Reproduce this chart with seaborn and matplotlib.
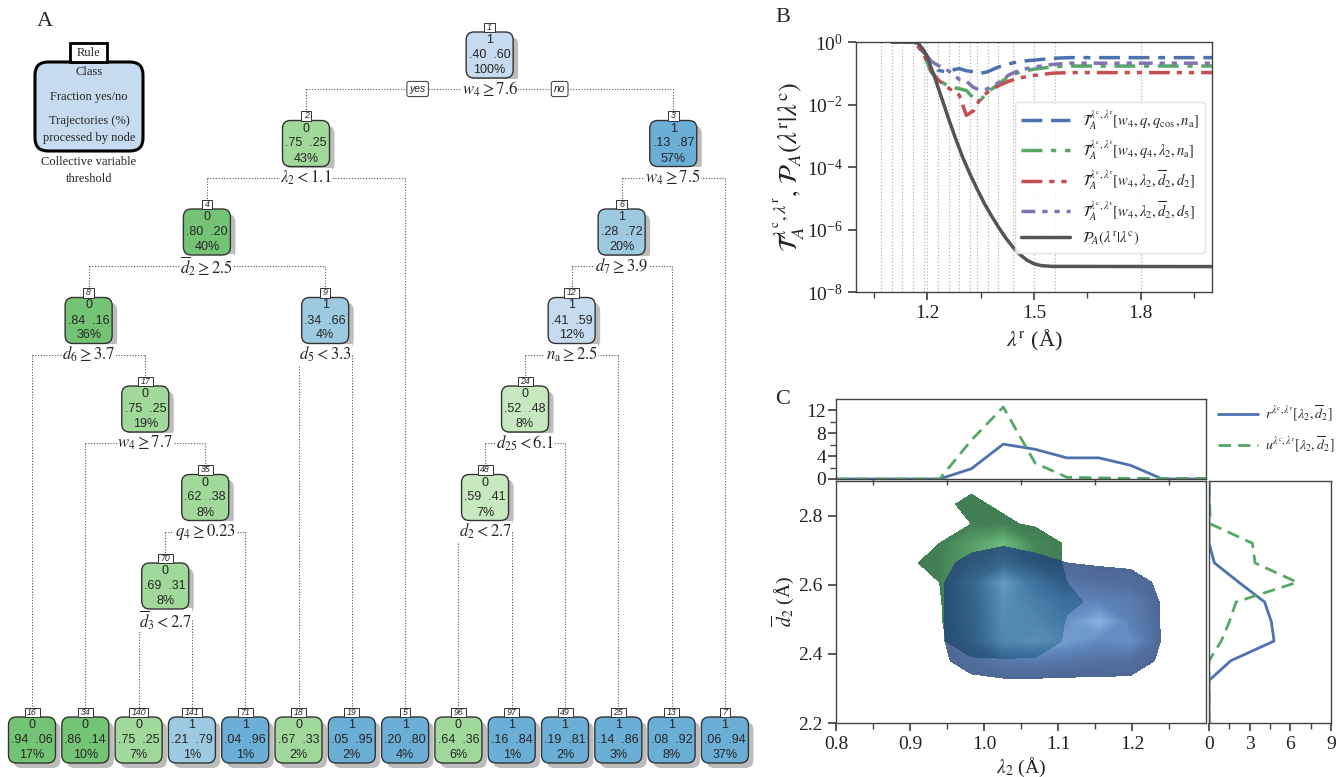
import numpy as np
import pandas as pd
import seaborn as sns
import matplotlib
matplotlib.use("Agg")
import matplotlib.pyplot as plt
from matplotlib.patches import FancyBboxPatch, Rectangle
from matplotlib.colors import LinearSegmentedColormap

W, H = 1336, 777

# ---------------- panel A : classification tree ----------------
node_ids = [1, 2, 3, 4, 5, 6, 7, 8, 9, 12, 13, 16, 17, 18, 19, 24, 25, 34, 35, 48, 49, 70, 71, 96, 97, 140, 141]
node_class = [1, 0, 1, 0, 1, 1, 1, 0, 1, 1, 1, 0, 0, 0, 1, 0, 1, 0, 0, 0, 1, 0, 1, 0, 1, 0, 1]
node_yes = [.40, .75, .13, .80, .20, .28, .06, .84, .34, .41, .08, .94, .75, .67, .05, .52, .14,
            .86, .62, .59, .19, .69, .04, .64, .16, .75, .21]
node_pct = [100, 43, 57, 40, 4, 20, 37, 36, 4, 12, 8, 17, 19, 2, 2, 8, 3, 10, 8, 7, 2, 8, 1, 6, 1, 7, 1]
split_nodes = [1, 2, 3, 4, 6, 8, 9, 12, 17, 24, 35, 48, 70]
split_rules = [r"$w_4 \geq 7.6$", r"$\lambda_2 < 1.1$", r"$w_4 \geq 7.5$", r"$\overline{d}_2 \geq 2.5$",
               r"$d_7 \geq 3.9$", r"$d_6 \geq 3.7$", r"$d_5 < 3.3$", r"$n_{\rm a} \geq 2.5$",
               r"$w_4 \geq 7.7$", r"$d_{25} < 6.1$", r"$q_4 \geq 0.23$", r"$d_2 < 2.7$",
               r"$\overline{d}_3 < 2.7$"]

# ---------------- panel B : transition probabilities ----------------
interfaces = [1.07, 1.10, 1.13, 1.16, 1.19, 1.23, 1.26, 1.29, 1.32, 1.34, 1.37, 1.40, 1.44, 1.56]
lam_r = [1.10, 1.165, 1.19, 1.21, 1.23, 1.25, 1.27, 1.29, 1.31, 1.33, 1.35, 1.37, 1.40, 1.43, 1.46,
         1.50, 1.55, 1.60, 2.00]
T_w4_q_qcos_na = [1, 1, 0.5, 0.25, 0.126, 0.112, 0.126, 0.141, 0.12, 0.112, 0.1, 0.112, 0.158, 0.2,
                  0.24, 0.263, 0.3, 0.316, 0.316]
T_w4_q4_l2_na = [1, 1, 0.45, 0.112, 0.063, 0.045, 0.035, 0.032, 0.028, 0.016, 0.014, 0.025, 0.045,
                 0.08, 0.11, 0.135, 0.16, 0.17, 0.17]
T_w4_l2_d2_d2 = [1, 1, 0.4, 0.126, 0.063, 0.04, 0.028, 0.02, 0.0045, 0.0063, 0.016, 0.025, 0.04,
                 0.056, 0.071, 0.085, 0.1, 0.105, 0.105]
T_w4_l2_d2_d5 = [1, 1, 0.45, 0.25, 0.178, 0.141, 0.1, 0.063, 0.056, 0.035, 0.028, 0.032, 0.05,
                 0.089, 0.126, 0.158, 0.19, 0.21, 0.21]
lam_r_P = [1.10, 1.165, 1.175, 1.19, 1.20, 1.22, 1.24, 1.26, 1.28, 1.30, 1.32, 1.34, 1.36, 1.38,
           1.40, 1.42, 1.44, 1.46, 1.48, 1.50, 1.52, 1.55, 2.00]
P_A = [1, 1, 0.9, 0.55, 0.33, 0.08, 0.017, 3.5e-3, 8e-4, 2e-4, 6e-5, 2e-5, 7e-6, 2.8e-6,
       1.2e-6, 5.5e-7, 2.8e-7, 1.6e-7, 1.05e-7, 8e-8, 7e-8, 6.6e-8, 6.5e-8]

# ---------------- panel C : densities of lambda_2 / d2bar ----------------
lam2_grid = [0.897, 0.940, 0.983, 1.026, 1.069, 1.112, 1.155, 1.198, 1.241]
d2_grid = [2.323, 2.38, 2.437, 2.493, 2.55, 2.607, 2.663, 2.72, 2.776, 2.833, 2.89]
r_joint = [
    [0, 0, 0, 0, 0, 0, 0, 0, 0],
    [0, 0, 3, 8, 9, 6, 5, 4, 0],
    [0, 0, 6, 23, 26, 22, 15, 17, 0],
    [0, 0, 7, 24, 23, 18, 30, 12, 0],
    [0, 0, 7, 25, 20, 15, 13, 10, 0],
    [0, 0, 6, 22, 14, 6, 4, 3, 0],
    [0, 0, 2, 6, 2, 1, 0.3, 0, 0],
    [0, 0, 0, 0, 0, 0, 0, 0, 0],
    [0, 0, 0, 0, 0, 0, 0, 0, 0],
    [0, 0, 0, 0, 0, 0, 0, 0, 0],
    [0, 0, 0, 0, 0, 0, 0, 0, 0],
]
u_joint = [
    [0, 0, 0, 0, 0, 0, 0, 0, 0],
    [0, 0, 0, 0, 0, 0, 0, 0, 0],
    [0, 0, 5, 8, 6, 0, 0, 0, 0],
    [0, 0, 10, 17, 7, 0.5, 0, 0, 0],
    [0, 0, 14, 22, 8, 2, 0, 0, 0],
    [0, 1, 40, 85, 22, 1, 0, 0, 0],
    [0, 3, 25, 42, 6, 0, 0, 0, 0],
    [0, 1, 22, 44, 6, 0, 0, 0, 0],
    [0, 0, 1, 2, 0, 0, 0, 0, 0],
    [0, 0, 2, 0, 0, 0, 0, 0, 0],
    [0, 0, 0, 0, 0, 0, 0, 0, 0],
]
lam2_marg = [0.80, 0.854, 0.897, 0.940, 0.983, 1.026, 1.069, 1.112, 1.155, 1.198, 1.241, 1.30]
r_lam2 = [0, 0, 0, 0, 1.8, 6.1, 5.2, 3.7, 3.7, 2.4, 0, 0]
u_lam2 = [0, 0, 0, 0, 6.8, 12.6, 2.8, 0.3, 0.2, 0.1, 0.1, 0.1]
d2_marg = [2.20, 2.27, 2.323, 2.38, 2.437, 2.493, 2.55, 2.607, 2.663, 2.72, 2.776, 2.833, 2.90]
r_d2 = [0, 0, 0, 1.6, 4.8, 4.6, 4.1, 2.2, 0.4, 0, 0, 0, 0]
u_d2 = [0, 0, 0, 0, 0.9, 1.5, 2.0, 6.5, 3.4, 3.2, 0.1, 0.05, 0]

# ---------------- style ----------------
sns.set_theme(style="ticks")
plt.rcParams.update({
    "font.family": ["Liberation Serif", "DejaVu Serif"],
    "mathtext.fontset": "stix",
    "axes.edgecolor": "#444444",
    "axes.linewidth": 1.0,
    "xtick.color": "#444444",
    "ytick.color": "#444444",
    "xtick.labelcolor": "#222222",
    "ytick.labelcolor": "#222222",
    "axes.labelcolor": "#222222",
})
deep = sns.color_palette("deep")
c_blue, c_green, c_red, c_purple = deep[0], deep[2], deep[3], deep[4]
SANS = ["Liberation Sans", "DejaVu Sans"]

fig = plt.figure(figsize=(W / 100, H / 100), dpi=100)

# ======================= A =======================
axA = fig.add_axes([0, 0, 770 / W, 1])
axA.set_xlim(0, 770)
axA.set_ylim(H, 0)
axA.axis("off")

nodes = pd.DataFrame({"cls": node_class, "yes": node_yes, "pct": node_pct}, index=node_ids)
rules = dict(zip(split_nodes, split_rules))

LEAF_X0, LEAF_DX, LEAF_Y = 32, 53.3, 740
ROOT_Y, LEVEL_DY = 55, 88.5
BW, BH = 47, 46

pos = {}
leaf_count = [0]


def place(n, depth):
    if 2 * n in nodes.index:
        xl = place(2 * n, depth + 1)
        xr = place(2 * n + 1, depth + 1)
        x = (xl + xr) / 2
        pos[n] = (x, ROOT_Y + LEVEL_DY * depth)
    else:
        x = LEAF_X0 + LEAF_DX * leaf_count[0]
        leaf_count[0] += 1
        pos[n] = (x, LEAF_Y)
    return x


place(1, 0)

greens = ["#c7e9c0", "#a1d99b", "#74c476"]
blues = ["#c6dbef", "#9ecae1", "#6baed6"]


def node_color(cls, p_yes):
    p = max(p_yes, 1 - p_yes)
    k = 0 if p <= 0.61 else (1 if p < 0.8 else 2)
    return (greens if cls == 0 else blues)[k]


def frac(p):
    return f"{p:.2f}"[1:]


line_kw = dict(color="#555555", lw=0.8, ls=(0, (1, 1.5)), zorder=1)

# connecting dotted lines and split labels
for n in split_nodes:
    x, y = pos[n]
    xl, yl = pos[2 * n]
    xr, yr = pos[2 * n + 1]
    ly = y + 34
    axA.plot([xl, xr], [ly, ly], **line_kw)
    axA.plot([xl, xl], [ly, yl - BH / 2 - 9], **line_kw)
    axA.plot([xr, xr], [ly, yr - BH / 2 - 9], **line_kw)
    axA.text(x, ly, rules[n], ha="center", va="center", fontsize=12, zorder=3,
             bbox=dict(fc="white", ec="none", pad=0.3))

# yes / no tags at the root
rx, ry = pos[1]
for dx, tag in [(-72, "yes"), (70, "no")]:
    axA.text(rx + dx, ry + 34, tag, ha="center", va="center", fontsize=7.5, style="italic",
             family=SANS, zorder=4,
             bbox=dict(boxstyle="round,pad=0.25,rounding_size=0.2", fc="white", ec="#333333", lw=0.7))

# nodes
for n, row in nodes.iterrows():
    x, y = pos[n]
    axA.add_patch(FancyBboxPatch((x - BW / 2 + 5, y - BH / 2 + 5), BW, BH,
                                 boxstyle="round,pad=0,rounding_size=8",
                                 fc="#bcbcbc", ec="none", zorder=2))
    axA.add_patch(FancyBboxPatch((x - BW / 2, y - BH / 2), BW, BH,
                                 boxstyle="round,pad=0,rounding_size=8",
                                 fc=node_color(row.cls, row.yes), ec="#333333", lw=1.0, zorder=3))
    axA.text(x, y - 15, f"{int(row.cls)}", ha="center", va="center", fontsize=9, family=SANS, zorder=4)
    axA.text(x, y, f"{frac(row.yes)}  {frac(1 - row.yes)}", ha="center", va="center",
             fontsize=9, family=SANS, zorder=4)
    axA.text(x, y + 15, f"{int(row.pct)}%", ha="center", va="center", fontsize=9, family=SANS, zorder=4)
    lw_ = 6 + 4.5 * len(str(n))
    axA.add_patch(Rectangle((x - lw_ / 2, y - BH / 2 - 9.5), lw_, 9.5, fc="white", ec="#333333",
                            lw=0.7, zorder=4))
    axA.text(x, y - BH / 2 - 4.6, str(n), ha="center", va="center", fontsize=6.3, style="italic",
             family=SANS, zorder=5)

# key box
axA.add_patch(FancyBboxPatch((35, 62), 108, 89, boxstyle="round,pad=0,rounding_size=13",
                             fc="#c6dbef", ec="black", lw=2.2, zorder=3))
axA.add_patch(Rectangle((70, 43), 37, 19, fc="white", ec="black", lw=2.0, zorder=4))
axA.text(88.5, 53, "Rule", ha="center", va="center", fontsize=9, zorder=5)
for ty, tt in [(72, "Class"), (97, "Fraction yes/no"), (121, "Trajectories (%)"),
               (138, "processed by node"), (162, "Collective variable"), (179, "threshold")]:
    axA.text(89, ty, tt, ha="center", va="center", fontsize=9, zorder=5)
axA.text(45, 22, "A", ha="center", va="center", fontsize=16)

# ======================= B =======================
axB = fig.add_axes([856 / W, 1 - 292 / H, 356 / W, 250 / H])
for lam in interfaces + [1.2, 1.5, 1.8]:
    axB.axvline(lam, color="#b5b5b5", ls=":", lw=0.9, zorder=0)

sns.lineplot(x=lam_r, y=T_w4_q_qcos_na, ax=axB, color=c_blue, lw=2.5,
             linestyle=(0, (6, 2.5, 6, 2.5, 2, 2.5)),
             label=r"$\mathcal{T}_A^{\lambda^{\rm c},\lambda^{\rm r}}[w_4,q,q_{\cos},n_{\rm a}]$")
sns.lineplot(x=lam_r, y=T_w4_q4_l2_na, ax=axB, color=c_green, lw=2.5,
             linestyle=(0, (6, 2.5, 1.5, 2.5)),
             label=r"$\mathcal{T}_A^{\lambda^{\rm c},\lambda^{\rm r}}[w_4,q_4,\lambda_2,n_{\rm a}]$")
sns.lineplot(x=lam_r, y=T_w4_l2_d2_d2, ax=axB, color=c_red, lw=2.5,
             linestyle=(0, (6, 2, 1.5, 2, 1.5, 2)),
             label=r"$\mathcal{T}_A^{\lambda^{\rm c},\lambda^{\rm r}}[w_4,\lambda_2,\overline{d}_2,d_2]$")
sns.lineplot(x=lam_r, y=T_w4_l2_d2_d5, ax=axB, color=c_purple, lw=2.5,
             linestyle=(0, (4, 2, 1.5, 2, 1.5, 2)),
             label=r"$\mathcal{T}_A^{\lambda^{\rm c},\lambda^{\rm r}}[w_4,\lambda_2,\overline{d}_2,d_5]$")
sns.lineplot(x=lam_r_P, y=P_A, ax=axB, color="#555555", lw=2.5,
             label=r"$\mathcal{P}_A(\lambda^{\rm r}|\lambda^{\rm c})$")
axB.set_yscale("log")
axB.set_ylim(1e-8, 1)
axB.set_xlim(1.0, 2.0)
axB.set_yticks([1, 1e-2, 1e-4, 1e-6, 1e-8])
axB.yaxis.set_minor_locator(matplotlib.ticker.NullLocator())
axB.set_xticks([1.2, 1.5, 1.8])
axB.set_xticks([1.05, 1.35, 1.65, 1.95], minor=True)
axB.tick_params(labelsize=14)
axB.set_xlabel(r"$\lambda^{\rm r}$ (Å)", fontsize=16)
axB.set_ylabel(r"$\mathcal{T}_A^{\lambda^{\rm c},\lambda^{\rm r}},\,\mathcal{P}_A(\lambda^{\rm r}|\lambda^{\rm c})$",
               fontsize=19, labelpad=0)
axB.legend(loc="upper right", bbox_to_anchor=(1.0, 0.79), fontsize=10.5, handlelength=3.4,
           frameon=True, framealpha=0.85, edgecolor="#dddddd", borderpad=0.4, labelspacing=0.45)
fig.text(775 / W, 1 - 18 / H, "B", ha="left", va="center", fontsize=16)

# ======================= C =======================
axC = fig.add_axes([836 / W, 1 - 723 / H, 370 / W, 242 / H])
axT = fig.add_axes([836 / W, 1 - 479 / H, 370 / W, 80 / H], sharex=axC)
axR = fig.add_axes([1209 / W, 1 - 723 / H, 122 / W, 242 / H], sharey=axC)


def fade(alpha):
    # group transparency: applied to the whole rendered contour set at once
    def _f(img, dpi):
        out = img.copy()
        out[..., 3] *= alpha
        return out, 0, 0
    return _f


cmap_g = LinearSegmentedColormap.from_list("g", ["#3c7a4d", "#66b877", "#bdefc4"])
cmap_b = LinearSegmentedColormap.from_list("b", ["#22427c", "#3a6cb0", "#6a9fd8"])
u_arr = np.array(u_joint)
r_arr = np.array(r_joint)
cs_u = axC.contourf(lam2_grid, d2_grid, u_arr, levels=np.linspace(1, u_arr.max(), 40), cmap=cmap_g)
cs_r = axC.contourf(lam2_grid, d2_grid, r_arr, levels=np.linspace(1, r_arr.max(), 40), cmap=cmap_b)
cs_u.set_agg_filter(fade(0.97))
cs_r.set_agg_filter(fade(0.8))
axC.set_xlim(0.8, 1.3)
axC.set_ylim(2.2, 2.9)
axC.set_xticks([0.8, 0.9, 1.0, 1.1, 1.2])
axC.set_xticks([0.85, 0.95, 1.05, 1.15, 1.25], minor=True)
axC.set_yticks([2.2, 2.4, 2.6, 2.8])
axC.tick_params(labelsize=14)
axC.set_xlabel(r"$\lambda_2$ (Å)", fontsize=14, labelpad=2)
axC.set_ylabel(r"$\overline{d}_2$ (Å)", fontsize=14, labelpad=2)

sns.lineplot(x=lam2_marg, y=r_lam2, ax=axT, color=c_blue, lw=2,
             label=r"$r^{\lambda^{\rm c},\lambda^{\rm r}}[\lambda_2,\overline{d}_2]$", legend=False)
sns.lineplot(x=lam2_marg, y=u_lam2, ax=axT, color=c_green, lw=2, linestyle=(0, (4.5, 2.5)),
             label=r"$u^{\lambda^{\rm c},\lambda^{\rm r}}[\lambda_2,\overline{d}_2]$", legend=False)
axT.set_ylim(0, 14)
axT.set_yticks([0, 4, 8, 12])
axT.set_yticks([2, 6, 10], minor=True)
axT.tick_params(axis="x", bottom=False, labelbottom=False)
axT.tick_params(axis="y", labelsize=14, pad=1)
axT.set_xlabel("")

sns.lineplot(x=r_d2, y=d2_marg, ax=axR, color=c_blue, lw=2, orient="y", sort=False)
sns.lineplot(x=u_d2, y=d2_marg, ax=axR, color=c_green, lw=2, orient="y", sort=False,
             linestyle=(0, (4.5, 2.5)))
axR.set_xlim(0, 9)
axR.set_xticks([0, 3, 6, 9])
axR.set_xticks([1.5, 4.5, 7.5], minor=True)
axR.tick_params(axis="y", left=False, labelleft=False)
axR.tick_params(axis="x", labelsize=14)
axR.set_xlabel("")
axR.set_ylabel("")

h, l = axT.get_legend_handles_labels()
fig.legend(h, l, loc="upper left", bbox_to_anchor=(1212 / W, 1 - 398 / H), frameon=False,
           fontsize=10, handlelength=2.9, labelspacing=0.8, borderaxespad=0, handletextpad=0.5)
fig.text(775 / W, 1 - 400 / H, "C", ha="left", va="center", fontsize=16)

fig.savefig("out.png", dpi=100)
